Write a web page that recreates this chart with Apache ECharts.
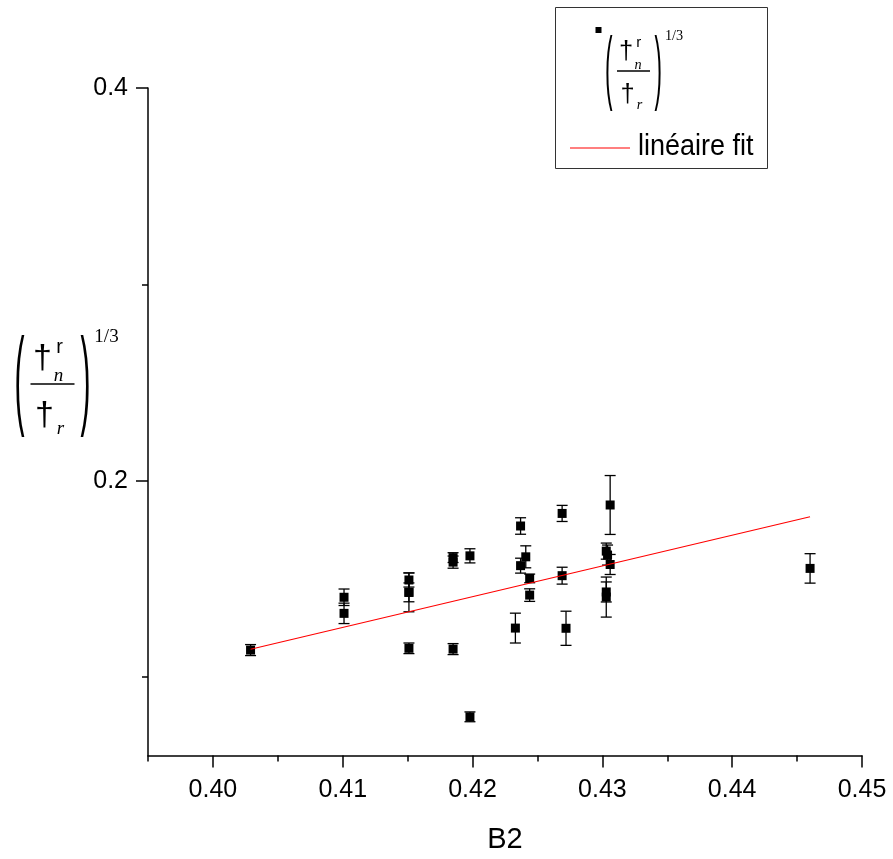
<!DOCTYPE html>
<html>
<head>
<meta charset="utf-8">
<script src="https://cdn.jsdelivr.net/npm/echarts@6/dist/echarts.min.js"></script>
<style>html,body{margin:0;padding:0;background:#fff;}#c{width:893px;height:859px;}</style>
</head>
<body>
<div id="c"></div>
<script>
// ---- data ----
const b2Values    = [0.4029, 0.4101, 0.4101, 0.4151, 0.4151, 0.4151, 0.4151, 0.4185, 0.4185, 0.4185, 0.4198, 0.4198, 0.4233, 0.4237, 0.4237, 0.4241, 0.4244, 0.4244, 0.4269, 0.4269, 0.4272, 0.4306, 0.4303, 0.4304, 0.4306, 0.4303, 0.4303, 0.4460];
const ratioValues = [0.1137, 0.1406, 0.1324, 0.1494, 0.1431, 0.1431, 0.1146, 0.1608, 0.1585, 0.1142, 0.1617, 0.0797, 0.1249, 0.1769, 0.1567, 0.1612, 0.1502, 0.1417, 0.1833, 0.1516, 0.1248, 0.1876, 0.1641, 0.1621, 0.1573, 0.1433, 0.1407, 0.1553];
const errValues   = [0.0028, 0.0042, 0.0052, 0.0036, 0.0048, 0.0099, 0.0027, 0.0025, 0.0031, 0.0028, 0.0036, 0.0025, 0.0076, 0.0042, 0.0038, 0.0056, 0.0022, 0.0032, 0.0041, 0.0043, 0.0087, 0.0150, 0.0041, 0.0051, 0.0051, 0.0051, 0.0102, 0.0075];
const fitX = [0.4029, 0.4460];
const fitY = [0.1141, 0.1816];
const xMajorTicks = [0.40, 0.41, 0.42, 0.43, 0.44, 0.45];
const xMinorTicks = [0.395, 0.405, 0.415, 0.425, 0.435, 0.445];
const yMajorTicks = [0.2, 0.4];
const yMinorTicks = [0.1, 0.3];
const xName = 'B2';
const fitName = 'linéaire fit';

const SERIF = '"Liberation Serif", "Times New Roman", serif';
const SANS = '"Liberation Sans", Arial, sans-serif';

const points = b2Values.map((x, i) => [x, ratioValues[i], errValues[i]]);
const fitData = fitX.map((x, i) => [x, fitY[i]]);

const chart = echarts.init(document.getElementById('c'), null, {renderer: 'canvas'});

// math expression (dagger ratio)^(1/3) built from text elements
function mathExpr(cx, cy, s) {
  const els = [];
  const t = (text, dx, dy, size, font, italic, extra) => Object.assign({
    type: 'text', x: cx + dx * s, y: cy + dy * s, silent: true,
    style: {text: text, fontSize: size * s, fontFamily: font, fontStyle: italic ? 'italic' : 'normal',
            fill: '#000', align: 'center', verticalAlign: 'middle'}
  }, extra || {});
  els.push(t('(', -33, 0, 24, SANS, false, {scaleX: 1.25, scaleY: 4.55}));
  els.push(t(')', 33, 0, 24, SANS, false, {scaleX: 1.25, scaleY: 4.55}));
  els.push(t('†', -10, -25, 34, SANS));
  els.push(t('r', 7, -37, 20, SANS));
  els.push(t('n', 6, -8, 19, SERIF, true));
  els.push({type: 'line', silent: true, shape: {x1: cx - 22 * s, y1: cy, x2: cx + 22 * s, y2: cy}, style: {stroke: '#000', lineWidth: 1.5}});
  els.push(t('†', -8, 32, 34, SANS));
  els.push(t('r', 8, 45, 19, SERIF, true));
  els.push(t('1/3', 54, -47, 19, SERIF));
  return els;
}

const graphics = [];
// legend box
graphics.push({type: 'rect', shape: {x: 555.5, y: 7.5, width: 212, height: 161}, style: {fill: '#fff', stroke: '#333', lineWidth: 1}, z: 10});
graphics.push({type: 'rect', shape: {x: 595.5, y: 27, width: 6, height: 6}, style: {fill: '#000'}, z: 11});
mathExpr(633.5, 71, 0.75).forEach(e => { e.z = 11; graphics.push(e); });
graphics.push({type: 'line', shape: {x1: 570, y1: 148, x2: 630, y2: 148}, style: {stroke: '#ff0000', lineWidth: 1.2}, z: 11});
graphics.push({type: 'text', x: 638, y: 147, z: 11, scaleX: 0.9, style: {text: fitName, fontSize: 30, fontFamily: SANS, fill: '#000', align: 'left', verticalAlign: 'middle'}});
// y-axis label
mathExpr(52.5, 384, 1).forEach(e => graphics.push(e));

const axisLineStyle = {color: '#000', width: 1.5};

chart.setOption({
  backgroundColor: '#fff',
  animation: false,
  grid: {left: 148, right: 31, top: 88, bottom: 103.5, containLabel: false, outerBoundsMode: 'none'},
  xAxis: [{
    type: 'value', min: 0.395, max: 0.45,
    axisLine: {show: true, onZero: false, lineStyle: axisLineStyle},
    axisTick: {show: true, length: 12, lineStyle: axisLineStyle, customValues: xMajorTicks},
    axisLabel: {show: true, margin: 22, fontSize: 25, fontFamily: SANS, color: '#000', customValues: xMajorTicks, formatter: v => v.toFixed(2)},
    splitLine: {show: false},
    name: xName, nameLocation: 'middle', nameGap: 70,
    nameTextStyle: {fontSize: 29, fontFamily: SANS, color: '#000'}
  }, {
    type: 'value', min: 0.395, max: 0.45, position: 'bottom',
    axisLine: {show: false},
    axisTick: {show: true, length: 6, lineStyle: axisLineStyle, customValues: xMinorTicks},
    axisLabel: {show: false}, splitLine: {show: false}
  }],
  yAxis: [{
    type: 'value', min: 0.06, max: 0.4,
    axisLine: {show: true, onZero: false, lineStyle: axisLineStyle},
    axisTick: {show: true, length: 12, lineStyle: axisLineStyle, customValues: yMajorTicks},
    axisLabel: {show: true, margin: 20, fontSize: 25, fontFamily: SANS, color: '#000', customValues: yMajorTicks, formatter: v => String(Math.round(v * 10) / 10)},
    splitLine: {show: false}
  }, {
    type: 'value', min: 0.06, max: 0.4, position: 'left',
    axisLine: {show: false},
    axisTick: {show: true, length: 6, lineStyle: axisLineStyle, customValues: yMinorTicks},
    axisLabel: {show: false}, splitLine: {show: false}
  }],
  series: [{
    name: 'errors', type: 'custom', xAxisIndex: 0, yAxisIndex: 0, z: 2,
    data: points,
    renderItem: function (params, api) {
      const x = api.value(0), y = api.value(1), e = api.value(2);
      const top = api.coord([x, y + e]);
      const bot = api.coord([x, y - e]);
      const hw = 5.5;
      const st = {stroke: '#000', lineWidth: 1.3};
      return {type: 'group', children: [
        {type: 'line', shape: {x1: top[0], y1: top[1], x2: bot[0], y2: bot[1]}, style: st},
        {type: 'line', shape: {x1: top[0] - hw, y1: top[1], x2: top[0] + hw, y2: top[1]}, style: st},
        {type: 'line', shape: {x1: bot[0] - hw, y1: bot[1], x2: bot[0] + hw, y2: bot[1]}, style: st}
      ]};
    },
    silent: true
  }, {
    name: 'ratio', type: 'scatter', xAxisIndex: 0, yAxisIndex: 0, z: 3,
    data: points.map(p => [p[0], p[1]]),
    symbol: 'rect', symbolSize: 9,
    itemStyle: {color: '#000', opacity: 1}
  }, {
    name: fitName, type: 'line', xAxisIndex: 0, yAxisIndex: 0, z: 4,
    data: fitData, showSymbol: false, symbol: 'none',
    lineStyle: {color: '#ff0000', width: 1.2}
  }],
  graphic: {elements: graphics}
});
</script>
</body>
</html>
